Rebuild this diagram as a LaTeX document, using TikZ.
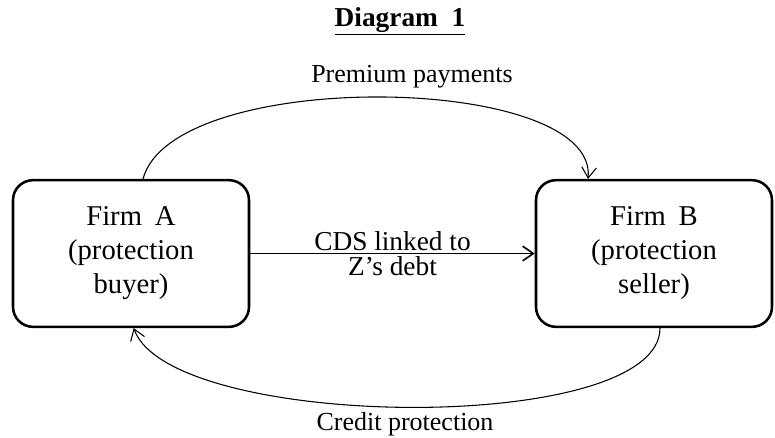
\documentclass[tikz,border=0pt]{standalone}
\usepackage{fontspec}
\setmainfont{Liberation Serif}
\usepackage{tikz}
\usetikzlibrary{arrows.meta, positioning}

\tikzset{
  firmbox/.style={draw, line width=1.9pt, rounded corners=15pt,
    minimum width=177pt, minimum height=110pt, align=center,
    font=\fontsize{21.5}{25.5}\selectfont},
  flowlabel/.style={font=\fontsize{19.5}{24}\selectfont, inner sep=1pt},
  flow/.style={line width=0.8pt, -{Straight Barb[length=8pt, width=11pt]}}
}

\begin{document}
\begin{tikzpicture}[x=0.75pt, y=-0.75pt]
  % page frame
  \useasboundingbox (0,0) rectangle (775,437);
  % title
  \node[font=\fontsize{20.5}{24}\selectfont\bfseries] (title) at (400,21)
    {\underline{Diagram\ \ 1}};
  % the two firms
  \node[firmbox] (firmA) at (131,253.5) {Firm\hspace{0.45em}A\\(protection\\buyer)};
  \node[firmbox] (firmB) at (654,253.5) {Firm\hspace{0.45em}B\\(protection\\seller)};
  % the contract
  \draw[flow, line width=1.2pt] (firmA.east) -- (firmB.west)
    node[flowlabel, font=\fontsize{20.5}{24}\selectfont, midway, above=0.5pt] (cds) {CDS linked to}
    node[flowlabel, font=\fontsize{20.5}{24}\selectfont, midway, below=0.5pt] (debt) {Z’s debt};
  % premium leg, over the top
  \draw[flow] ([xshift=9pt]firmA.north)
    .. controls +(30,-112) and +(10,-106) .. ([xshift=-49.5pt]firmB.north);
  \node[flowlabel] (premium) at (412,77) {Premium payments};
  % protection leg, underneath
  \draw[flow] ([xshift=4.5pt]firmB.south)
    .. controls +(0,108) and +(37,103) .. ([xshift=2pt]firmA.south);
  \node[flowlabel] (protection) at (405,424) {Credit protection};
\end{tikzpicture}
\end{document}
